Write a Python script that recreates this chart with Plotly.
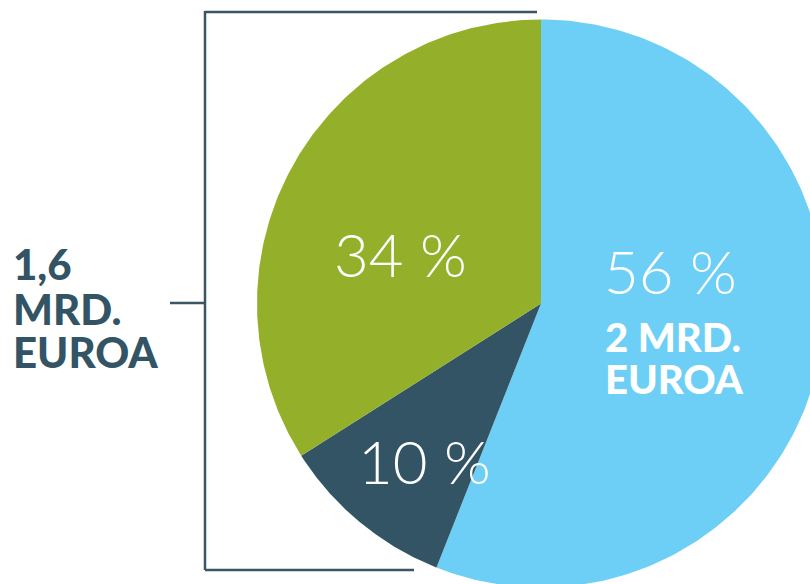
import numpy as np
import plotly.graph_objects as go

# Data
labels = ["2 mrd. euroa", "muu", "1,6 mrd. osa"]
values = [56, 10, 34]
colors = ["#6dcff6", "#325464", "#94b02b"]
pct_labels = ["56 %", "10 %", "34 %"]
left_lines = ["1,6", "MRD.", "EUROA"]
right_lines = ["2 MRD.", "EUROA"]

W, H = 810, 584
CX, CY, R = 541, 303.5, 284

fig = go.Figure()

total = sum(values)
start = 0.0
for v, c, name in zip(values, colors, labels):
    a0 = start / total * 2 * np.pi
    a1 = (start + v) / total * 2 * np.pi
    t = np.linspace(a0, a1, 200)
    xs = np.concatenate([[CX], CX + R * np.sin(t), [CX]])
    ys = np.concatenate([[CY], CY - R * np.cos(t), [CY]])
    fig.add_trace(go.Scatter(x=xs, y=ys, fill="toself", fillcolor=c,
                             line=dict(width=0, color=c), mode="lines",
                             name=name, hoverinfo="name", showlegend=False))
    start += v

line_col = "#3b5563"
shapes = [
    dict(type="line", x0=205, x1=537, y0=12, y1=12),
    dict(type="line", x0=205, x1=205, y0=11, y1=570),
    dict(type="line", x0=205, x1=414, y0=570, y1=570),
    dict(type="line", x0=170, x1=205, y0=303, y1=303),
]
for s in shapes:
    s.update(xref="x", yref="y", line=dict(color=line_col, width=2.5), layer="above")

light = dict(family="Lato, Roboto, 'Open Sans', sans-serif", size=60, color="white", weight=300)
bold_w = dict(family="Lato, 'Open Sans', sans-serif", size=40, color="white", weight=900)
bold_d = dict(family="Lato, 'Open Sans', sans-serif", size=42, color="#325464", weight=900)

annotations = [
    dict(x=670, y=271, text=pct_labels[0], font=light),
    dict(x=424, y=461, text=pct_labels[1], font=light),
    dict(x=400, y=254, text=pct_labels[2], font=light),
]
for txt, yy in zip(right_lines, [337, 379]):
    annotations.append(dict(x=603, y=yy, text=txt, font=bold_w, xanchor="left"))
for txt, yy in zip(left_lines, [264, 309, 352]):
    annotations.append(dict(x=11, y=yy, text=txt, font=bold_d, xanchor="left"))
for a in annotations:
    a.setdefault("xanchor", "center")
    a.update(xref="x", yref="y", yanchor="middle", showarrow=False)

fig.update_layout(
    width=W, height=H, margin=dict(l=0, r=0, t=0, b=0),
    paper_bgcolor="white", plot_bgcolor="white",
    xaxis=dict(range=[0, W], visible=False, fixedrange=True),
    yaxis=dict(range=[H, 0], visible=False, fixedrange=True),
    shapes=shapes, annotations=annotations,
)

fig.write_html("out.html", config={"displayModeBar": False},
               post_script="document.body.style.margin='0px';")
